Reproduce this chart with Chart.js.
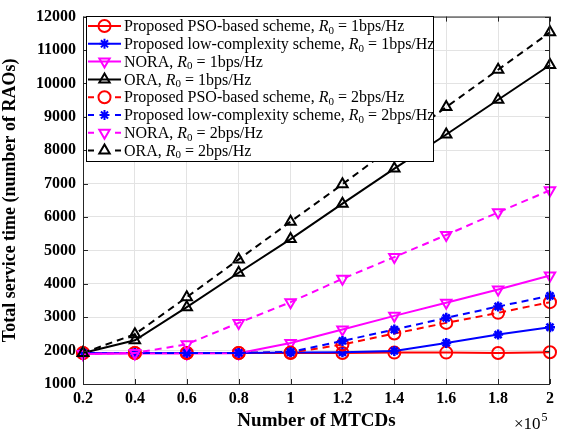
<!DOCTYPE html>
<html>
<head>
<meta charset="utf-8">
<script src="https://cdn.jsdelivr.net/npm/chart.js@4.4.1/dist/chart.umd.min.js"></script>
<style>
  html, body { margin: 0; padding: 0; background: #fff; }
  #wrap { width: 566px; height: 432px; }
</style>
</head>
<body>
<div id="wrap"><canvas id="myChart" width="566" height="432"></canvas></div>
<script>
// x values in units of 1e5 MTCDs
const xLabels = ["0.2", "0.4", "0.6", "0.8", "1", "1.2", "1.4", "1.6", "1.8", "2"];

// total service time (number of RAOs)
const psoR1 = [1930, 1930, 1930, 1930, 1930, 1930, 1940, 1940, 1930, 1950];
const lowR1 = [1930, 1930, 1930, 1930, 1940, 1950, 1990, 2230, 2480, 2700];
const noraR1 = [1900, 1910, 1910, 1920, 2230, 2630, 3040, 3430, 3830, 4250];
const oraR1 = [1930, 2310, 3300, 4330, 5340, 6400, 7450, 8470, 9510, 10550];
const psoR2 = [1930, 1930, 1930, 1930, 1940, 2180, 2510, 2830, 3130, 3450];
const lowR2 = [1930, 1930, 1930, 1930, 1960, 2290, 2630, 2980, 3320, 3640];
const noraR2 = [1900, 1930, 2190, 2830, 3450, 4150, 4800, 5460, 6140, 6800];
const oraR2 = [1930, 2490, 3600, 4730, 5860, 6980, 8140, 9290, 10410, 11530];

const yTicks = [1000, 2000, 3000, 4000, 5000, 6000, 7000, 8000, 9000, 10000, 11000, 12000];

const SERIF = "'Liberation Serif', 'Times New Roman', serif";

const series = [
  { name: "Proposed PSO-based scheme, ", rate: "1", data: psoR1, color: "#ff0000", style: "circle", rot: 0, dashed: false },
  { name: "Proposed low-complexity scheme, ", rate: "1", data: lowR1, color: "#0000ff", style: "star", rot: 0, dashed: false },
  { name: "NORA, ", rate: "1", data: noraR1, color: "#ff00ff", style: "triangle", rot: 180, dashed: false },
  { name: "ORA, ", rate: "1", data: oraR1, color: "#000000", style: "triangle", rot: 0, dashed: false },
  { name: "Proposed PSO-based scheme, ", rate: "2", data: psoR2, color: "#ff0000", style: "circle", rot: 0, dashed: true },
  { name: "Proposed low-complexity scheme, ", rate: "2", data: lowR2, color: "#0000ff", style: "star", rot: 0, dashed: true },
  { name: "NORA, ", rate: "2", data: noraR2, color: "#ff00ff", style: "triangle", rot: 180, dashed: true },
  { name: "ORA, ", rate: "2", data: oraR2, color: "#000000", style: "triangle", rot: 0, dashed: true },
];

const DASH = [7, 5];

const datasets = series.map((s, i) => ({
  label: s.name + "R0 = " + s.rate + "bps/Hz",
  data: s.data,
  borderColor: s.color,
  backgroundColor: s.color,
  borderWidth: 2,
  borderDash: s.dashed ? DASH : [],
  pointStyle: s.style,
  pointRotation: s.rot,
  pointRadius: s.style === "star" ? 5 : 6,
  pointBorderWidth: s.style === "star" ? 2.5 : 2,
  pointBackgroundColor: "rgba(0,0,0,0)",
  pointBorderColor: s.color,
  tension: 0,
  order: series.length - i,
}));

// box, inner ticks, exponent label and the legend
const decorations = {
  id: "decorations",
  afterDraw(chart) {
    const ctx = chart.ctx;
    const { left, right, top, bottom } = chart.chartArea;
    const xs = chart.scales.x;
    const ys = chart.scales.y;
    ctx.save();

    // frame
    ctx.strokeStyle = "#262626";
    ctx.lineWidth = 1;
    ctx.setLineDash([]);
    ctx.strokeRect(left + 0.5, top + 0.5, right - left - 1, bottom - top);

    // inner tick marks
    ctx.beginPath();
    xLabels.forEach((l, i) => {
      const px = Math.round(xs.getPixelForValue(i)) + 0.5;
      ctx.moveTo(px, bottom);
      ctx.lineTo(px, bottom - 5);
      ctx.moveTo(px, top);
      ctx.lineTo(px, top + 5);
    });
    yTicks.forEach((v) => {
      const py = Math.round(ys.getPixelForValue(v)) + 0.5;
      ctx.moveTo(left, py);
      ctx.lineTo(left + 5, py);
      ctx.moveTo(right, py);
      ctx.lineTo(right - 5, py);
    });
    ctx.stroke();

    // x10^5
    ctx.fillStyle = "#000";
    ctx.textBaseline = "alphabetic";
    ctx.textAlign = "left";
    ctx.font = "17px " + SERIF;
    ctx.fillText("\u00d710", 514, 429);
    const w10 = ctx.measureText("\u00d710").width;
    ctx.font = "12px " + SERIF;
    ctx.fillText("5", 514 + w10 + 1, 421);

    // legend
    const bx = 86, by = 16, bw = 347, bh = 145;
    ctx.fillStyle = "#fff";
    ctx.fillRect(bx, by, bw, bh);
    ctx.strokeStyle = "#000";
    ctx.lineWidth = 1;
    ctx.strokeRect(bx + 0.5, by + 0.5, bw, bh);

    const rowH = 17.8;
    series.forEach((s, i) => {
      const cy = by + 10 + i * rowH;
      const x0 = 88, x1 = 121, mx = 104.5;
      ctx.strokeStyle = s.color;
      ctx.lineWidth = 2;
      ctx.setLineDash([]);
      ctx.beginPath();
      if (s.dashed) {
        ctx.moveTo(x0, cy); ctx.lineTo(x0 + 6, cy);
        ctx.moveTo(x1 - 6, cy); ctx.lineTo(x1, cy);
      } else {
        ctx.moveTo(x0, cy); ctx.lineTo(x1, cy);
      }
      ctx.stroke();
      ctx.fillStyle = "rgba(0,0,0,0)";
      Chart.helpers.drawPoint(ctx, {
        pointStyle: s.style,
        rotation: s.rot,
        radius: s.style === "star" ? 5 : 6,
        borderWidth: s.style === "star" ? 2.5 : 2,
      }, mx, cy);

      // text: name, italic R, subscript 0, rest
      ctx.fillStyle = "#000";
      ctx.textBaseline = "middle";
      let tx = 124;
      ctx.font = "16px " + SERIF;
      ctx.fillText(s.name, tx, cy + 1);
      tx += ctx.measureText(s.name).width;
      ctx.font = "italic 16px " + SERIF;
      ctx.fillText("R", tx, cy + 1);
      tx += ctx.measureText("R").width;
      ctx.font = "11px " + SERIF;
      ctx.fillText("0", tx, cy + 5);
      tx += ctx.measureText("0").width;
      ctx.font = "16px " + SERIF;
      ctx.fillText(" = " + s.rate + "bps/Hz", tx, cy + 1);
    });

    ctx.restore();
  },
};

new Chart(document.getElementById("myChart"), {
  type: "line",
  data: { labels: xLabels, datasets: datasets },
  options: {
    responsive: false,
    animation: false,
    devicePixelRatio: 1,
    layout: { padding: { top: 15, right: 16, left: 0, bottom: 0 } },
    plugins: { legend: { display: false }, tooltip: { enabled: false } },
    scales: {
      x: {
        type: "category",
        offset: false,
        grid: { color: "#e3e3e3", drawTicks: false },
        border: { display: false },
        ticks: {
          padding: 5,
          color: "#000",
          maxRotation: 0,
          font: { family: SERIF, size: 16, weight: "bold" },
        },
        title: {
          display: true,
          text: "Number of MTCDs",
          color: "#000",
          padding: { top: 0, bottom: 0 },
          font: { family: SERIF, size: 19, weight: "bold" },
        },
        afterFit: (scale) => { scale.height = 48; },
      },
      y: {
        min: 1000,
        max: 12000,
        grid: { color: "#e3e3e3", drawTicks: false },
        border: { display: false },
        ticks: {
          stepSize: 1000,
          padding: 7,
          color: "#000",
          callback: (v) => String(v),
          font: { family: SERIF, size: 16, weight: "bold" },
        },
        title: {
          display: true,
          text: "Total service time (number of RAOs)",
          color: "#000",
          padding: { top: 0, bottom: 2 },
          font: { family: SERIF, size: 18, weight: "bold" },
        },
        afterFit: (scale) => { scale.width = 83; },
      },
    },
  },
  plugins: [decorations],
});
</script>
</body>
</html>
